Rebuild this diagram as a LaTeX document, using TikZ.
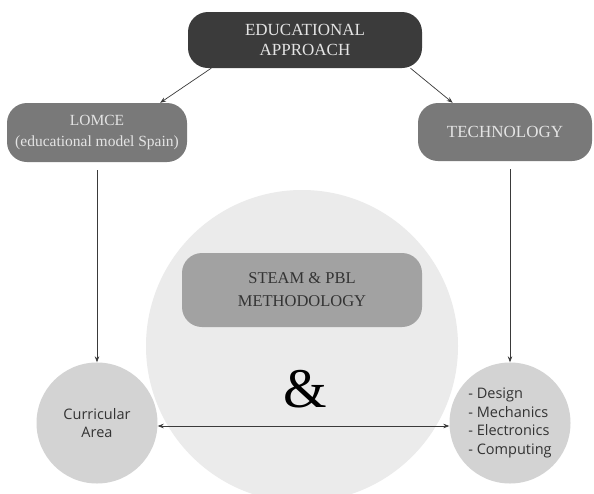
\documentclass[tikz,border=0pt]{standalone}
\usepackage{fontspec}
\setmainfont{Liberation Serif}
\newfontfamily\circlefont{Open Sans}
\usetikzlibrary{calc,arrows.meta}
\definecolor{boxdark}{HTML}{3B3B3B}
\definecolor{boxmid}{HTML}{797979}
\definecolor{boxlight}{HTML}{A2A2A2}
\definecolor{bigdisc}{HTML}{EBEBEB}
\definecolor{smalldisc}{HTML}{D3D3D3}
\definecolor{lighttext}{HTML}{E4E4E4}
\definecolor{darktext}{HTML}{333333}
\definecolor{linegrey}{HTML}{3A3A3A}
\begin{document}
\begin{tikzpicture}[x=1pt,y=-1pt,
  pill/.style={rounded corners=20pt, inner sep=0pt, align=center,
    font=\fontsize{17}{20}\selectfont},
  disc/.style={circle, fill=smalldisc, inner sep=0pt, minimum size=121pt,
    text=darktext, font=\circlefont\fontsize{14.5}{18.5}\selectfont},
  link/.style={draw=linegrey, line width=0.7pt,
    -{Stealth[length=6pt,width=4.5pt]}}
]
\useasboundingbox (0,0) rectangle (594,493);
\clip (0,0) rectangle (594,493);
\fill[white] (0,0) rectangle (594,493);

% central disc
\node[circle, fill=bigdisc, minimum size=312pt, inner sep=0pt] (hub) at (302,346) {};

% boxes
\node[pill, fill=boxdark, text=lighttext, minimum width=234pt, minimum height=56pt]
  (ea) at (305,40) {EDUCATIONAL\\APPROACH};
\node[pill, fill=boxmid, text=lighttext, minimum width=180pt, minimum height=59pt,
  font=\fontsize{15.5}{21}\selectfont]
  (lomce) at (97,132.5) {LOMCE\\(educational model Spain)};
\node[pill, fill=boxmid, text=lighttext, minimum width=174pt, minimum height=58pt]
  (tech) at (505,132) {TECHNOLOGY};
\node[pill, fill=boxlight, text=darktext, minimum width=240pt, minimum height=74pt,
  font=\fontsize{16.5}{23}\selectfont]
  (steam) at (302,290) {STEAM \& PBL\\METHODOLOGY};

\node[font=\fontsize{56}{56}\selectfont, text=black, inner sep=0pt] (amp) at (305,389) {\&};

% outer discs
\node[disc, align=center] (area) at (97,423) {Curricular\\Area};
\node[disc, align=left] (fields) at (510,423)
  {- Design\\- Mechanics\\- Electronics\\- Computing};

% connectors
\draw[link] ($(ea.south west)!0.1!(ea.south east)$) -- ($(lomce.north west)!0.85!(lomce.north east)$);
\draw[link] ($(ea.south west)!0.95!(ea.south east)$) -- ($(tech.north west)!0.2!(tech.north east)$);
\draw[link] (lomce.south -| area.north) ++(0,8) -- (area.north);
\draw[link] (tech.south -| fields.north) ++(0,8) -- (fields.north);
\draw[link, {Stealth[length=6pt,width=4.5pt]}-{Stealth[length=6pt,width=4.5pt]}]
  ($(area.east)+(0,3)$) -- ($(fields.west)+(0,3)$);
\end{tikzpicture}
\end{document}
